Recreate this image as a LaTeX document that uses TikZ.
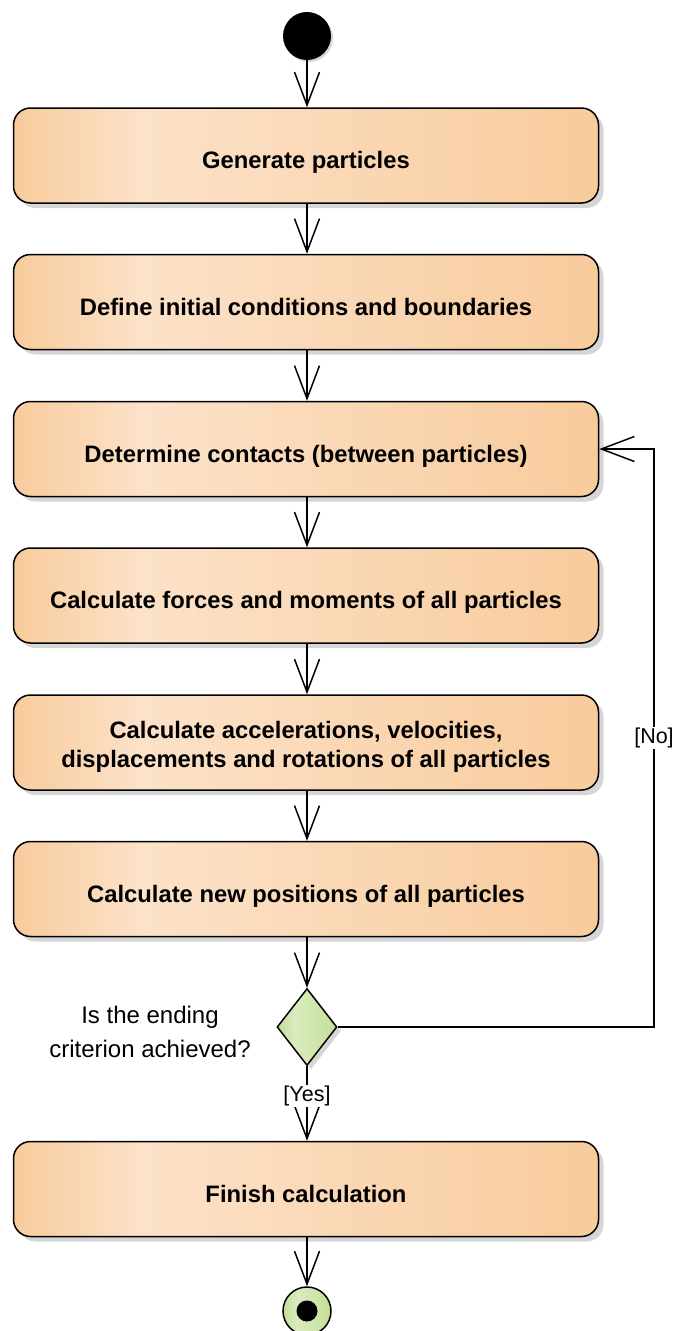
\documentclass[tikz,border=0pt]{standalone}
\usepackage{fontspec}
\setmainfont{Liberation Sans}
\usepackage{tikz}
\usetikzlibrary{arrows.meta,shapes.geometric,shadows}

\definecolor{actdark}{HTML}{F8CB9C}
\definecolor{actlight}{HTML}{FCE2C9}
\definecolor{decdark}{HTML}{C3DE96}
\definecolor{declight}{HTML}{DAECBF}
\definecolor{shadowgray}{HTML}{D6D6D6}

% central 25bp..75bp is mapped onto the node
\pgfdeclarehorizontalshading{actshade}{100bp}{color(0bp)=(actdark); color(25bp)=(actdark); color(36bp)=(actlight); color(75bp)=(actdark); color(100bp)=(actdark)}
\pgfdeclarehorizontalshading{decshade}{100bp}{color(0bp)=(decdark); color(25bp)=(decdark); color(40bp)=(declight); color(75bp)=(decdark); color(100bp)=(decdark)}

\tikzset{
  activity/.style={rectangle, rounded corners=17pt, draw, line width=1.5pt,
    shading=actshade, minimum width=585pt, minimum height=95pt,
    align=center, font=\fontsize{23.8}{29}\selectfont\bfseries,
    text height=26pt, text depth=0pt,
    drop shadow={shadow xshift=5pt, shadow yshift=-5pt, fill=shadowgray, opacity=1}},
  decision/.style={diamond, draw, line width=1.5pt, shading=decshade,
    minimum width=60pt, minimum height=77pt, inner sep=0pt,
    drop shadow={shadow xshift=4pt, shadow yshift=-4pt, fill=shadowgray, opacity=1}},
  initial/.style={circle, fill=black, minimum size=48pt, inner sep=0pt,
    drop shadow={shadow xshift=2pt, shadow yshift=-2pt, fill=shadowgray, opacity=1}},
  finalout/.style={circle, draw, line width=1.5pt, shading=decshade,
    minimum size=48pt, inner sep=0pt},
  finalin/.style={circle, fill=black, minimum size=21pt, inner sep=0pt},
  guard/.style={fill=white, inner sep=1pt, font=\fontsize{21.5}{29}\selectfont},
  flow/.style={->, line width=1.5pt}
}

\begin{document}
\begin{tikzpicture}[x=1pt, y=-1pt, >={Straight Barb[length=33pt,width=25pt]}]
    \useasboundingbox (0,0) rectangle (679,1331);

    % Start
    \node[initial] (start) at (307,36) {};

    % Activities
    \node[activity] (gen)  at (306,155.5) {Generate particles};
    \node[activity] (init) at (306,302)   {Define initial conditions and boundaries};
    \node[activity] (cont) at (306,449)   {Determine contacts (between particles)};
    \node[activity] (force) at (306,595.5) {Calculate forces and moments of all particles};
    \node[activity, text height=49pt] (accel) at (306,742.5) {Calculate accelerations, velocities,\\displacements and rotations of all particles};
    \node[activity] (pos)  at (306,889)   {Calculate new positions of all particles};

    % Decision
    \node[decision] (dec) at (307,1027) {};
    \node[font=\fontsize{24}{34}\selectfont, align=center] (ask) at (150,1032) {Is the ending\\criterion achieved?};

    % Finish
    \node[activity] (fin) at (306,1189) {Finish calculation};
    \node[finalout] (stop) at (307,1311) {};
    \node[finalin] (stopdot) at (stop) {};

    % Flow
    \draw[flow] (start) -- (start |- gen.north);
    \draw[flow] (gen.south -| start) -- (start |- init.north);
    \draw[flow] (init.south -| start) -- (start |- cont.north);
    \draw[flow] (cont.south -| start) -- (start |- force.north);
    \draw[flow] (force.south -| start) -- (start |- accel.north);
    \draw[flow] (accel.south -| start) -- (start |- pos.north);
    \draw[flow] (pos.south -| start) -- (dec.north);
    \draw[flow] (dec.south) -- node[guard, pos=0.4] {[Yes]} (start |- fin.north);
    \draw[flow] (fin.south -| start) -- (stop.north);

    % Loop back
    \coordinate (loopc) at (654,1027);
    \draw[flow] (dec.east) -- (loopc) |- node[guard, pos=0.25] {[No]} (cont.east);
\end{tikzpicture}
\end{document}
